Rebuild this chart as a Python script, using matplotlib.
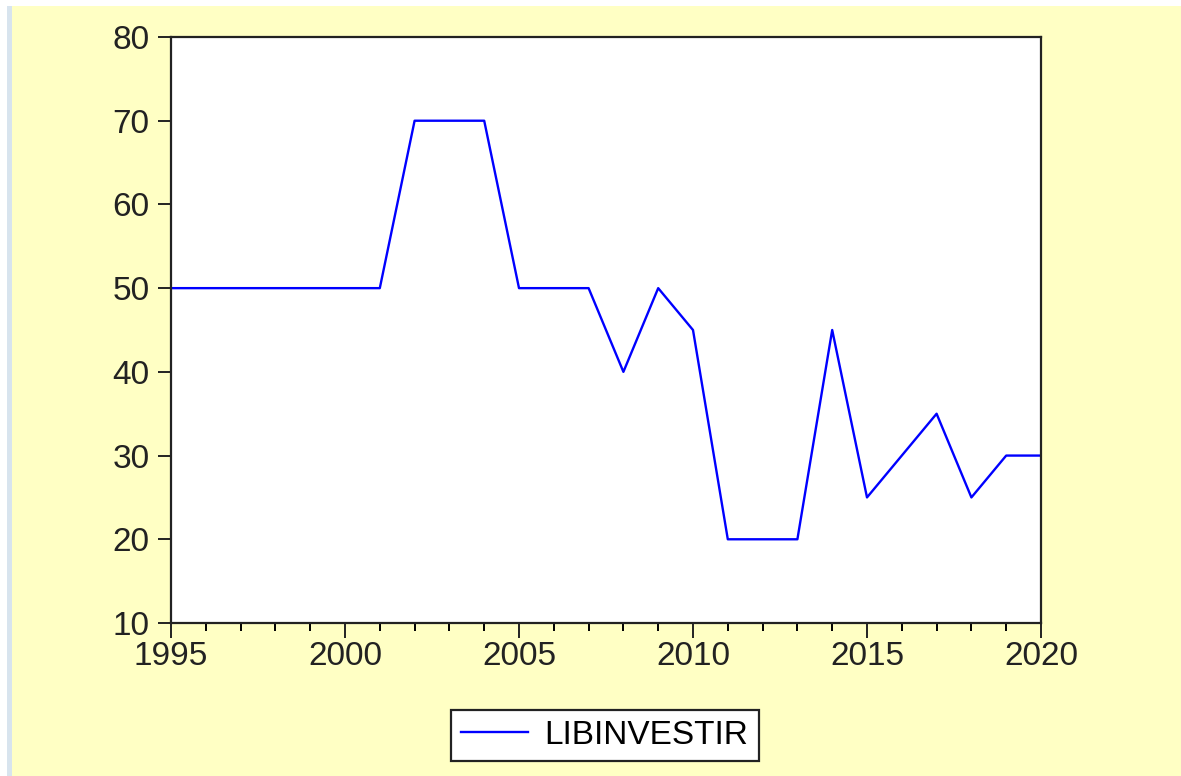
import matplotlib.pyplot as plt
from matplotlib.patches import Rectangle
from matplotlib.ticker import MultipleLocator

# data
years = list(range(1995, 2021))
libinvestir = [50, 50, 50, 50, 50, 50, 50, 70, 70, 70,
               50, 50, 50, 40, 50, 45, 20, 20, 20, 45,
               25, 30, 35, 25, 30, 30]
yticks = [10, 20, 30, 40, 50, 60, 70, 80]
xticks = [1995, 2000, 2005, 2010, 2015, 2020]

plt.rcParams['font.family'] = ['Liberation Sans', 'DejaVu Sans']

fig = plt.figure(figsize=(11.81, 7.76), dpi=100, facecolor='white')

# eviews style background
fig.patches.append(Rectangle((12/1181, 0), 1 - 12/1181, 1 - 6/776, transform=fig.transFigure,
                             facecolor='#FFFFC4', edgecolor='none', zorder=-10))
fig.patches.append(Rectangle((7/1181, 0), 5/1181, 1 - 6/776, transform=fig.transFigure,
                             facecolor='#D8E4EE', edgecolor='none', zorder=-10))

ax = fig.add_axes([171/1181, 1 - 623/776, 870/1181, 586/776])
ax.set_zorder(1)
ax.set_facecolor('white')
ax.plot(years, libinvestir, color='#0000FF', linewidth=1.7, label='LIBINVESTIR')

ax.set_xlim(1995, 2020)
ax.set_ylim(10, 80)
ax.set_xticks(xticks)
ax.set_yticks(yticks)
ax.xaxis.set_minor_locator(MultipleLocator(1))

for s in ax.spines.values():
    s.set_linewidth(1.6)
    s.set_color('#222222')
ax.tick_params(axis='y', which='major', direction='out', length=9.5, width=1.4,
               labelsize=24, pad=6, right=False)
ax.tick_params(axis='x', which='major', direction='out', length=11, width=1.4,
               labelsize=24, pad=2, top=False)
ax.tick_params(axis='x', which='minor', direction='out', length=6, width=1.4, top=False)
ax.tick_params(axis='both', colors='#222222')

leg = fig.legend(loc='center', bbox_to_anchor=(605/1181, 1 - 735/776), fontsize=24,
                 frameon=True, fancybox=False, handlelength=2.0, handletextpad=0.5,
                 borderpad=0.3, borderaxespad=0)
leg.set_zorder(2)
leg.get_frame().set_edgecolor('#222222')
leg.get_frame().set_linewidth(1.6)
leg.get_frame().set_facecolor('white')
leg.get_frame().set_alpha(1)

fig.savefig('out.png', dpi=100, facecolor=fig.get_facecolor())
